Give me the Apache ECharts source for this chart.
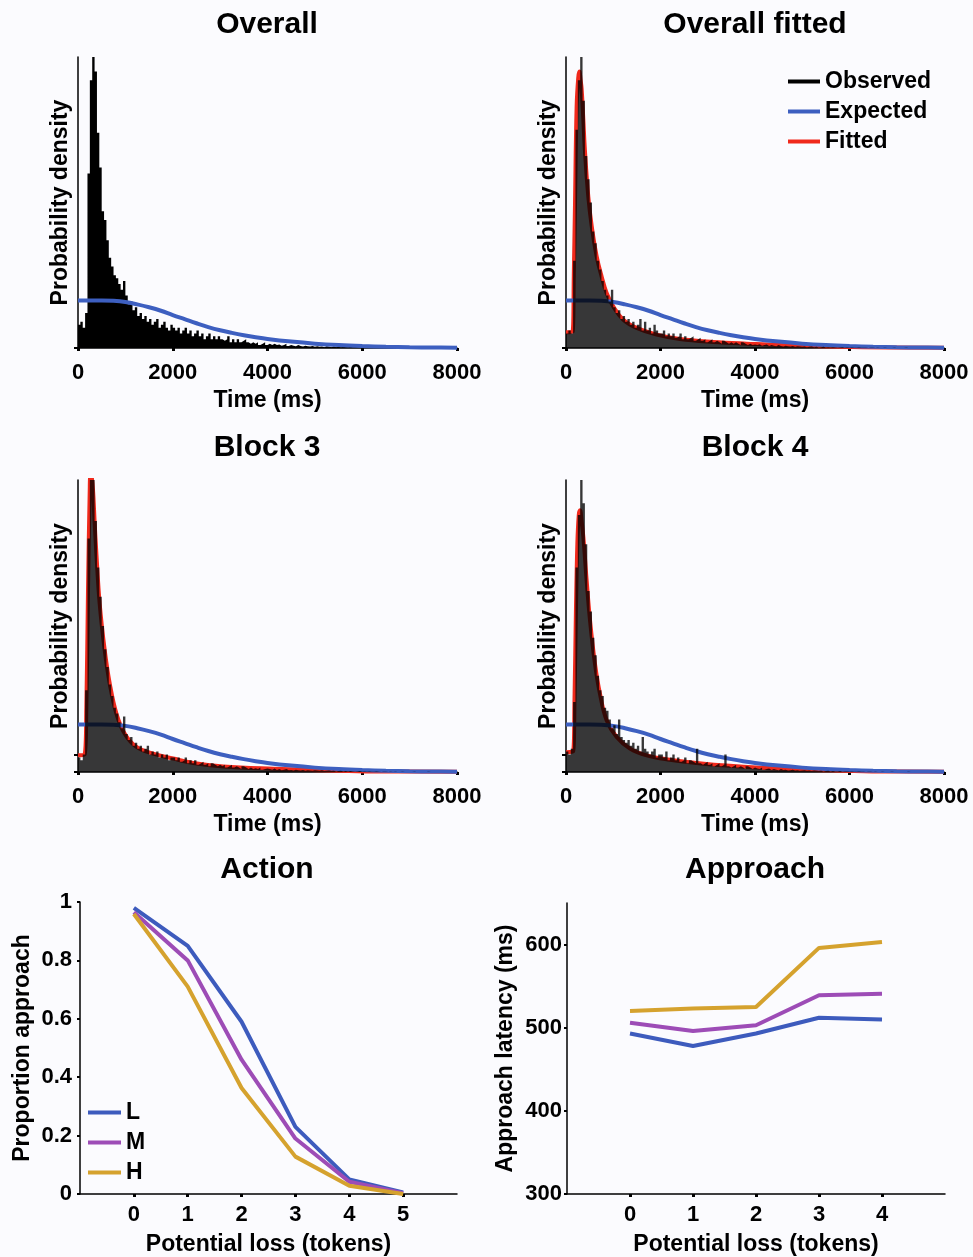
<!DOCTYPE html>
<html>
<head>
<meta charset="utf-8">
<title>Approach latency</title>
<script src="https://cdn.jsdelivr.net/npm/echarts@6/dist/echarts.min.js"></script>
<style>
html, body { margin: 0; padding: 0; background: #fbfbfe; }
#main { width: 973px; height: 1257px; }
</style>
</head>
<body>
<div id="main"></div>
<script>
// histogram bins are 50 ms wide, starting at 0 ms (160 bins up to 8000 ms)
// heights are in arbitrary density units, 100 = top of the axis
var binWidth = 50;

var overallHist = [
    8, 9, 7, 12, 60, 92, 100, 95, 74, 62, 47, 44, 37, 31, 28, 25, 24, 22, 20, 23,
    18, 15, 16, 13, 14, 11, 12, 10, 11, 9, 10, 8, 9, 10, 7, 8, 9, 7, 6, 8,
    7, 6, 7, 5, 6, 7, 5, 6, 4, 5, 6, 4, 5, 3, 4, 5, 3, 4, 3, 4,
    3, 2.5, 3, 4, 2, 3, 2, 3, 2, 2.5, 3, 2, 1.5, 2, 1.5, 2, 1, 1.5, 2, 1,
    1.5, 1, 1.5, 1, 1.2, 0.8, 1, 1.5, 0.7, 1, 0.8, 0.6, 1, 0.7, 0.5, 0.8, 0.6, 0.5, 0.7, 0.4,
    0.6, 0.4, 0.5, 0.3, 0.6, 0.4, 0.3, 0.5, 0.3, 0.4, 0.2, 0.4, 0.3, 0.2, 0.4, 0.2, 0.3, 0.2, 0.2, 0.3,
    0.2, 0.1, 0.2, 0.1, 0.2, 0.1, 0.1, 0.2, 0.1, 0.1, 0.1, 0.1, 0, 0.1, 0.1, 0, 0.1, 0, 0, 0.1,
    0, 0, 0.1, 0, 0, 0, 0.1, 0, 0, 0, 0, 0, 0, 0, 0, 0, 0, 0, 0, 0
];

var fittedHist = [
    5, 6, 5, 30, 75, 92, 100, 85, 66, 58, 50, 40, 36, 30, 27, 23, 20, 18, 16, 20,
    14, 12, 13, 10, 11, 9, 10, 8, 9, 7, 8, 10, 6, 9, 6, 7, 5, 8, 6, 5,
    5, 6, 4, 5, 4, 5, 3.5, 4, 5, 3, 4, 3, 3.5, 4, 2.5, 3, 3.5, 2.5, 3, 2,
    2.5, 3, 2, 2.5, 2, 1.5, 2.5, 2, 1.5, 2, 1.5, 2, 1.5, 1, 2, 1.5, 1, 1.5, 1, 1.2,
    1, 1.3, 0.8, 1, 1.2, 0.7, 1, 0.8, 0.6, 1, 0.7, 0.5, 0.8, 0.6, 0.5, 0.7, 0.4, 0.6, 0.5, 0.4,
    0.5, 0.3, 0.4, 0.5, 0.3, 0.4, 0.2, 0.3, 0.4, 0.2, 0.3, 0.2, 0.3, 0.2, 0.1, 0.2, 0.3, 0.1, 0.2, 0.1,
    0.2, 0.1, 0.1, 0.2, 0.1, 0.1, 0.1, 0, 0.1, 0.1, 0, 0.1, 0, 0, 0.1, 0, 0, 0, 0.1, 0,
    0, 0, 0, 0.1, 0, 0, 0, 0, 0, 0, 0, 0, 0, 0, 0, 0, 0, 0, 0, 0
];

var block3Hist = [
    5, 4, 6, 28, 80, 100, 100, 86, 70, 60, 50, 42, 36, 30, 26, 22, 20, 17, 15, 19,
    13, 11, 12, 9, 10, 8, 9, 7, 8, 9, 6, 7, 6, 7, 5, 6, 5, 6, 4, 5,
    5, 4, 5, 3.5, 4, 5, 3, 4, 3, 4, 2.5, 3, 3.5, 2.5, 3, 2, 3, 2.5, 2, 2.5,
    2, 2.5, 1.5, 2, 2.5, 1.5, 2, 1.5, 1, 2, 1.5, 1, 1.5, 1, 1.3, 1, 1.5, 0.8, 1, 1.2,
    1, 0.8, 1.2, 0.7, 1, 0.6, 0.8, 1, 0.6, 0.7, 0.5, 0.8, 0.6, 0.5, 0.7, 0.4, 0.6, 0.5, 0.4, 0.6,
    0.5, 0.4, 0.6, 0.3, 0.4, 0.5, 0.3, 0.4, 0.2, 0.3, 0.4, 0.2, 0.3, 0.2, 0.3, 0.2, 0.1, 0.2, 0.3, 0.1,
    0.2, 0.1, 0.2, 0.1, 0.1, 0.2, 0.1, 0, 0.1, 0.1, 0, 0.1, 0, 0.1, 0, 0, 0.1, 0, 0, 0,
    0, 0.1, 0, 0, 0, 0, 0, 0.1, 0, 0, 0, 0, 0, 0, 0, 0, 0, 0, 0, 0
];

var block4Hist = [
    7, 6, 8, 24, 70, 88, 100, 92, 78, 62, 55, 46, 40, 33, 28, 26, 22, 21, 18, 15,
    16, 13, 18, 12, 11, 10, 11, 9, 10, 8, 9, 7, 12, 8, 7, 6, 7, 8, 5, 6,
    6, 5, 7, 4, 5, 6, 4, 5, 3.5, 4, 5, 3, 4, 3.5, 3, 8, 3, 2.5, 3, 3.5,
    2.5, 3, 2, 2.5, 3, 2, 2.5, 6, 2, 1.5, 2, 2.5, 1.5, 2, 1.5, 1, 2, 1.5, 1, 1.5,
    1.2, 1, 1.5, 0.8, 1, 1.2, 0.7, 1, 0.8, 0.6, 1, 0.7, 0.8, 0.5, 0.6, 0.8, 0.5, 0.6, 0.4, 0.5,
    0.6, 0.4, 0.5, 0.3, 0.5, 0.4, 0.3, 0.4, 0.2, 0.3, 0.4, 0.2, 0.3, 0.2, 0.2, 0.3, 0.1, 0.2, 0.2, 0.1,
    0.2, 0.1, 0.1, 0.2, 0.1, 0.1, 0, 0.1, 0.1, 0, 0.1, 0, 0, 0.1, 0, 0, 0, 0.1, 0, 0,
    0, 0, 0, 0, 0.1, 0, 0, 0, 0, 0, 0, 0, 0, 0, 0, 0, 0, 0, 0, 0
];

// expected density (same in all four panels), [time ms, density]
var expectedCurve = [
    [0, 16.3], [250, 16.3], [500, 16.3], [750, 16.2], [1000, 15.8], [1250, 15.0],
    [1500, 14.0], [1750, 12.8], [2000, 11.3], [2250, 9.9], [2500, 8.5], [2750, 7.2],
    [3000, 6.1], [3250, 5.2], [3500, 4.4], [3750, 3.7], [4000, 3.1], [4500, 2.2],
    [5000, 1.5], [5500, 1.0], [6000, 0.65], [6500, 0.4], [7000, 0.25], [7500, 0.15], [8000, 0.1]
];

// fitted densities
var fittedCurve = [
    [0, 5.4], [140, 5.6], [165, 25], [190, 49], [225, 83], [260, 93], [282, 95],
    [310, 92], [331, 89], [365, 79], [400, 68], [472, 52], [543, 42], [649, 31.5],
    [754, 24.6], [860, 18.9], [1000, 14.3], [1213, 9.7], [1495, 6.9], [1918, 4.6],
    [2411, 3.1], [3116, 2.1], [3821, 1.5], [4879, 0.8], [6289, 0.3], [8000, 0.1]
];
var block3Curve = [
    [0, 5.7], [140, 6], [176, 22], [211, 62], [247, 96], [265, 102], [290, 101],
    [317, 96.5], [350, 86], [388, 74.8], [458, 57.6], [564, 41.7], [670, 30.3],
    [811, 20], [987, 13.1], [1234, 8.6], [1586, 6.3], [2009, 4.6], [2432, 3.1],
    [3067, 1.9], [4124, 1.1], [5182, 0.6], [6239, 0.2], [8000, 0.1]
];
var block4Curve = [
    [0, 6.8], [150, 7], [180, 25], [210, 55], [240, 78], [270, 88], [296, 89.6],
    [330, 86], [367, 80.5], [437, 65.6], [508, 52], [613, 37.1], [719, 26.8],
    [860, 17.7], [1072, 12], [1354, 8], [1706, 5.7], [2200, 4.2], [2764, 3.1],
    [3469, 2.1], [4526, 1.1], [5584, 0.6], [6641, 0.2], [8000, 0.1]
];

// Action: proportion approach by potential loss
var actionLoss = [0, 1, 2, 3, 4, 5];
var actionL = [0.98, 0.85, 0.59, 0.23, 0.05, 0.005];
var actionM = [0.965, 0.80, 0.46, 0.19, 0.042, 0.003];
var actionH = [0.959, 0.71, 0.363, 0.128, 0.028, 0];

// Approach: latency (ms) by potential loss
var approachLoss = [0, 1, 2, 3, 4];
var approachL = [493, 478, 493, 512, 510];
var approachM = [506, 496, 503, 539, 541];
var approachH = [520, 523, 525, 596, 603];

var blue = '#3d5fc0';
var red = '#f0291c';
var colL = '#3d5bbd';
var colM = '#9d4cb6';
var colH = '#d5a22e';
var font = '"Liberation Sans", Arial, Helvetica, sans-serif';

function txt(size) {
    return { fontFamily: font, fontWeight: 'bold', fontSize: size, color: '#000' };
}
function lab(size, margin) {
    var o = txt(size);
    o.margin = margin;
    o.formatter = function (v) { return String(v); };
    return o;
}
function histData(bins) {
    var d = bins.map(function (v, i) { return [i * binWidth, v]; });
    d.push([bins.length * binWidth, bins[bins.length - 1]]);
    return d;
}
function pairs(xs, ys) {
    return xs.map(function (x, i) { return [x, ys[i]]; });
}

var axLine = { show: true, onZero: false, lineStyle: { color: '#000', width: 1.5 } };

var grids = [
    { left: 78, top: 57, width: 379, height: 291 },
    { left: 566, top: 57, width: 378, height: 291 },
    { left: 78, top: 480, width: 379, height: 292 },
    { left: 566, top: 480, width: 378, height: 292 },
    { left: 80, top: 902, width: 377, height: 292 },
    { left: 567, top: 903, width: 378, height: 291 }
];

var xAxes = [], yAxes = [];
for (var i = 0; i < 4; i++) {
    xAxes.push({
        gridIndex: i, type: 'value', min: 0, max: 8000, interval: 2000,
        name: 'Time (ms)', nameLocation: 'middle', nameGap: 41, nameTextStyle: txt(23),
        axisLine: axLine,
        axisTick: { show: true, length: 3, lineStyle: { color: '#000', width: 3 } },
        axisLabel: lab(22, 14),
        splitLine: { show: false }
    });
    yAxes.push({
        gridIndex: i, type: 'value', min: 0, max: 100,
        name: 'Probability density', nameLocation: 'middle', nameGap: 6, nameTextStyle: txt(23),
        axisLine: axLine,
        axisTick: { show: true, length: 4, customValues: i < 2 ? [0] : [0, 5.8], lineStyle: { color: '#000', width: 2 } },
        axisLabel: { show: false },
        splitLine: { show: false }
    });
}
// Action
xAxes.push({
    gridIndex: 4, type: 'value', min: -1, max: 6,
    name: 'Potential loss (tokens)', nameLocation: 'middle', nameGap: 39, nameTextStyle: txt(23),
    axisLine: axLine,
    axisTick: { show: true, length: 3, customValues: actionLoss, lineStyle: { color: '#000', width: 3 } },
    axisLabel: Object.assign(lab(22, 10), { customValues: actionLoss }),
    splitLine: { show: false }
});
yAxes.push({
    gridIndex: 4, type: 'value', min: 0, max: 1, interval: 0.2,
    name: 'Proportion approach', nameLocation: 'middle', nameGap: 46, nameTextStyle: txt(23),
    axisLine: axLine,
    axisTick: { show: true, length: 3, lineStyle: { color: '#000', width: 2 } },
    axisLabel: lab(22, 8),
    splitLine: { show: false }
});
// Approach
xAxes.push({
    gridIndex: 5, type: 'value', min: -1, max: 5,
    name: 'Potential loss (tokens)', nameLocation: 'middle', nameGap: 39, nameTextStyle: txt(23),
    axisLine: axLine,
    axisTick: { show: true, length: 3, customValues: approachLoss, lineStyle: { color: '#000', width: 3 } },
    axisLabel: Object.assign(lab(22, 10), { customValues: approachLoss }),
    splitLine: { show: false }
});
yAxes.push({
    gridIndex: 5, type: 'value', min: 300, max: 650, interval: 100,
    name: 'Approach latency (ms)', nameLocation: 'middle', nameGap: 50, nameTextStyle: txt(23),
    axisLine: axLine,
    axisTick: { show: true, length: 3, customValues: [300, 400, 500, 600], lineStyle: { color: '#000', width: 2 } },
    axisLabel: Object.assign(lab(22, 5), { customValues: [300, 400, 500, 600] }),
    splitLine: { show: false }
});

function curve(name, idx, data, color, z) {
    return {
        name: name, type: 'line', xAxisIndex: idx, yAxisIndex: idx, data: data,
        symbol: 'none', smooth: 0.4, z: z, silent: true,
        lineStyle: { color: color, width: 4 }, itemStyle: { color: color }
    };
}
function hist(idx, bins, fill, z) {
    return {
        name: 'Observed', type: 'line', step: 'end', xAxisIndex: idx, yAxisIndex: idx,
        data: histData(bins), symbol: 'none', z: z, silent: true,
        lineStyle: { width: 0 }, itemStyle: { color: '#000' },
        areaStyle: { color: fill, opacity: 1 }
    };
}

var series = [
    hist(0, overallHist, '#000', 2),
    curve('Expected', 0, expectedCurve, blue, 3)
];
var fitted = [fittedCurve, block3Curve, block4Curve];
var hists = [fittedHist, block3Hist, block4Hist];
for (var k = 0; k < 3; k++) {
    series.push(curve('Fitted', k + 1, fitted[k], red, 2));
    series.push(curve('Expected', k + 1, expectedCurve, blue, 2));
    series.push(hist(k + 1, hists[k], 'rgba(0,0,0,0.78)', 3));
}
var lineSets = [['L', actionL, approachL, colL], ['M', actionM, approachM, colM], ['H', actionH, approachH, colH]];
lineSets.forEach(function (s) {
    series.push({
        name: s[0], type: 'line', xAxisIndex: 4, yAxisIndex: 4, data: pairs(actionLoss, s[1]),
        symbol: 'none', lineStyle: { color: s[3], width: 4 }, itemStyle: { color: s[3] }, silent: true
    });
    series.push({
        name: s[0], type: 'line', xAxisIndex: 5, yAxisIndex: 5, data: pairs(approachLoss, s[2]),
        symbol: 'none', lineStyle: { color: s[3], width: 4 }, itemStyle: { color: s[3] }, silent: true
    });
});

function title(text, x, y) {
    return { text: text, left: x, top: y, textAlign: 'center', padding: 0, textStyle: txt(30) };
}

var option = {
    backgroundColor: '#fbfbfe',
    animation: false,
    title: [
        title('Overall', 267, 10),
        title('Overall fitted', 755, 10),
        title('Block 3', 267, 433),
        title('Block 4', 755, 433),
        title('Action', 267, 855),
        title('Approach', 755, 855)
    ],
    legend: [
        {
            data: [
                { name: 'Observed', itemStyle: { color: '#000' } },
                { name: 'Expected', itemStyle: { color: blue } },
                { name: 'Fitted', itemStyle: { color: red } }
            ],
            orient: 'vertical', left: 788, top: 70, padding: 0,
            icon: 'rect', itemWidth: 32, itemHeight: 4, itemGap: 7,
            selectedMode: false, textStyle: txt(23)
        },
        {
            data: [
                { name: 'L', itemStyle: { color: colL } },
                { name: 'M', itemStyle: { color: colM } },
                { name: 'H', itemStyle: { color: colH } }
            ],
            orient: 'vertical', left: 88, top: 1101, padding: 0,
            icon: 'rect', itemWidth: 33, itemHeight: 4, itemGap: 7,
            selectedMode: false, textStyle: txt(23)
        }
    ],
    grid: grids,
    xAxis: xAxes,
    yAxis: yAxes,
    series: series
};

var myChart = echarts.init(document.getElementById('main'));
myChart.setOption(option);
</script>
</body>
</html>
